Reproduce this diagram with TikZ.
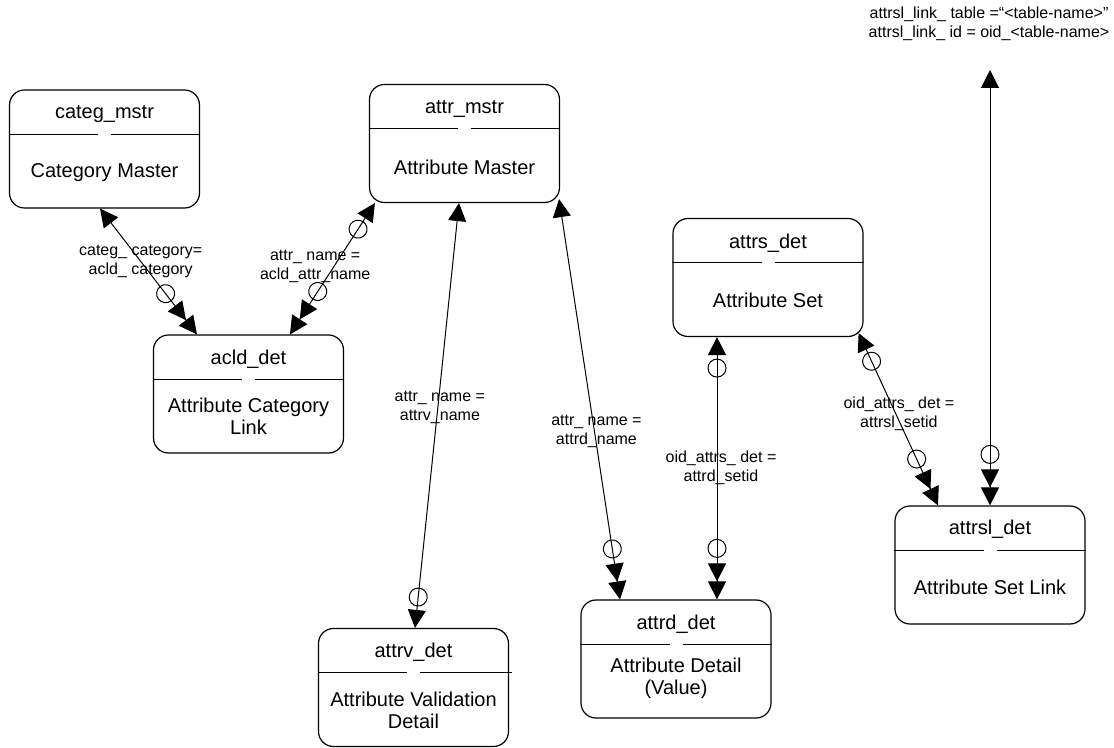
\documentclass[tikz,border=0pt]{standalone}
\usepackage{fontspec}
\setmainfont{Liberation Sans}
\usetikzlibrary{arrows.meta, decorations.markings}

\begin{document}
\begin{tikzpicture}[
    x=0.5pt, y=-0.5pt,
    font=\fontsize{10}{11}\selectfont,
    entity/.style={rectangle, rounded corners=7.5pt, draw, line width=0.6pt, minimum width=95pt, minimum height=59pt, inner sep=0pt},
    title/.style={inner sep=1pt},
    body/.style={inner sep=1pt, align=center},
    divider/.style={line width=0.5pt},
    lbl/.style={font=\fontsize{8}{9.5}\selectfont, align=center, inner sep=1pt},
    link/.style={line width=0.5pt},
    one/.tip={Triangle[length=9pt, width=9pt]},
    many/.tip={Triangle[length=9pt, width=9pt] Triangle[length=9pt, width=9pt]},
    optstart/.style={postaction={decorate, decoration={markings, mark=at position #1 with {\draw[-, line width=0.5pt] (0,0) circle (4.5pt);}}}},
    optend/.style={postaction={decorate, decoration={markings, mark=at position -#1 with {\draw[-, line width=0.5pt] (0,0) circle (4.5pt);}}}}
]
\useasboundingbox (0,0) rectangle (1114,748);

% Entities
\node[entity] (categ) at (104.5,149) {};
\node[title] (categ_t) at ([yshift=-12.5pt]categ.north) {categ\_mstr};
\node[body] (categ_b) at ([yshift=-41.5pt]categ.north) {Category Master};
\draw[divider] ([yshift=-22.5pt]categ.north west) -- ([xshift=-3.25pt, yshift=-22.5pt]categ.north)
    ([xshift=3.25pt, yshift=-22.5pt]categ.north) -- ([yshift=-22.5pt]categ.north east);

\node[entity] (acld) at (248.5,394) {};
\node[title] (acld_t) at ([yshift=-12.5pt]acld.north) {acld\_det};
\node[body] (acld_b) at ([yshift=-41pt]acld.north) {Attribute Category\\Link};
\draw[divider] ([yshift=-22.5pt]acld.north west) -- ([xshift=-3.25pt, yshift=-22.5pt]acld.north)
    ([xshift=3.25pt, yshift=-22.5pt]acld.north) -- ([yshift=-22.5pt]acld.north east);

\node[entity] (attr) at (464.5,143.5) {};
\node[title] (attr_t) at ([yshift=-12.5pt]attr.north) {attr\_mstr};
\node[body] (attr_b) at ([yshift=-41.5pt]attr.north) {Attribute Master};
\draw[divider] ([yshift=-22.5pt]attr.north west) -- ([xshift=-3.25pt, yshift=-22.5pt]attr.north)
    ([xshift=3.25pt, yshift=-22.5pt]attr.north) -- ([yshift=-22.5pt]attr.north east);

\node[entity] (attrs) at (768,277.5) {};
\node[title] (attrs_t) at ([yshift=-12.5pt]attrs.north) {attrs\_det};
\node[body] (attrs_b) at ([yshift=-41pt]attrs.north) {Attribute Set};
\draw[divider] ([yshift=-22.5pt]attrs.north west) -- ([xshift=-3.25pt, yshift=-22.5pt]attrs.north)
    ([xshift=3.25pt, yshift=-22.5pt]attrs.north) -- ([yshift=-22.5pt]attrs.north east);

\node[entity] (attrv) at (413.5,687.5) {};
\node[title] (attrv_t) at ([yshift=-12pt]attrv.north) {attrv\_det};
\node[body] (attrv_b) at ([yshift=-41pt]attrv.north) {Attribute Validation\\Detail};
\draw[divider] ([yshift=-22.5pt]attrv.north west) -- ([xshift=-3.25pt, yshift=-22.5pt]attrv.north)
    ([xshift=3.25pt, yshift=-22.5pt]attrv.north) -- ([xshift=1.5pt, yshift=-22.5pt]attrv.north east);

\node[entity] (attrd) at (676,659) {};
\node[title] (attrd_t) at ([yshift=-12.5pt]attrd.north) {attrd\_det};
\node[body] (attrd_b) at ([yshift=-39.5pt]attrd.north) {Attribute Detail\\(Value)};
\draw[divider] ([yshift=-22.5pt]attrd.north west) -- ([xshift=-3.25pt, yshift=-22.5pt]attrd.north)
    ([xshift=3.25pt, yshift=-22.5pt]attrd.north) -- ([yshift=-22.5pt]attrd.north east);

\node[entity] (attrsl) at (990,565) {};
\node[title] (attrsl_t) at ([yshift=-12pt]attrsl.north) {attrsl\_det};
\node[body] (attrsl_b) at ([yshift=-41pt]attrsl.north) {Attribute Set Link};
\draw[divider] ([yshift=-22.5pt]attrsl.north west) -- ([xshift=-3.25pt, yshift=-22.5pt]attrsl.north)
    ([xshift=3.25pt, yshift=-22.5pt]attrsl.north) -- ([yshift=-22.5pt]attrsl.north east);

% Free end with its note
\node[lbl] (linknote) at (989,24) {attrsl\_link\_ table =“<table-name>”\\attrsl\_link\_ id = oid\_<table-name>};
\coordinate (linkend) at (990,70);

% Relationships
\draw[link, one-many, optend=25.5pt] ([xshift=-2.25pt]categ.south) -- node[lbl, pos=0.42] (l_categ) {categ\_ category=\\acld\_ category} ([xshift=-25.75pt]acld.north);
\draw[link, one-many, optstart=15.5pt, optend=25.5pt] ([xshift=3pt]attr.south west) -- node[lbl, pos=0.48, xshift=-9.5pt] (l_acld) {attr\_ name =\\acld\_attr\_name} ([xshift=20.75pt]acld.north);
\draw[link, one-one, optend=15.5pt] ([xshift=-2.75pt]attr.south) -- node[lbl, pos=0.48, xshift=1pt] (l_attrv) {attr\_ name =\\attrv\_name} ([xshift=0.75pt]attrv.north);
\draw[link, one-many, optend=25.5pt] ([xshift=-0.5pt, yshift=2pt]attr.south east) -- node[lbl, pos=0.58, xshift=1pt] (l_attrd) {attr\_ name =\\attrd\_name} ([xshift=-28pt]attrd.north);
\draw[link, one-many, optstart=15.5pt, optend=25.5pt] ([xshift=-25.5pt]attrs.south) -- node[lbl, pos=0.5, xshift=2pt] (l_setid) {oid\_attrs\_ det =\\attrd\_setid} ([xshift=20.5pt]attrd.north);
\draw[link, one-many, optstart=15.5pt, optend=25.5pt] ([xshift=-2.5pt, yshift=2pt]attrs.south east) -- node[lbl, pos=0.47, xshift=1.5pt] (l_slset) {oid\_attrs\_ det =\\attrsl\_setid} ([xshift=-26pt]attrsl.north);
\draw[link, one-many, optend=25.5pt] (linkend) -- (attrsl.north);

\end{tikzpicture}
\end{document}
